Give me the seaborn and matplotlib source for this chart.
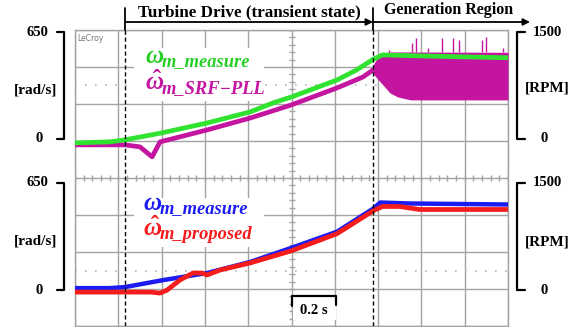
import numpy as np
import pandas as pd
import seaborn as sns
from matplotlib import pyplot as plt
from matplotlib.patches import Rectangle

#%% DATA
# upper channel, rad/s, time in s (0.2 s/div)
t_meas_up = [0.00, 0.16, 0.23, 0.40, 0.61, 0.81, 0.915, 1.00, 1.21, 1.30, 1.376, 1.42, 1.60, 2.00]
w_meas_up = [-18, -12, 0, 42, 102, 169, 223, 259, 361, 421, 485, 512, 506, 495]

t_pll = [0.00, 0.23, 0.30, 0.356, 0.393, 0.61, 0.81, 1.00, 1.21, 1.33, 1.376]
w_pll = [-30, -30, -42, -102, -12, 60, 132, 211, 313, 379, 421]

# SRF-PLL oscillation band in generation region
t_band = [1.376, 1.41, 1.455, 1.49, 1.55, 2.00]
w_band_hi = [450, 522, 530, 530, 530, 528]
w_band_lo = [400, 349, 283, 259, 241, 241]
t_spike = [1.45, 1.557, 1.575, 1.63, 1.695, 1.746, 1.774, 1.88, 1.898, 1.977]
w_spike = [542, 584, 614, 554, 614, 614, 602, 602, 620, 554]

# lower channel, rad/s
t_meas_lo = [0.00, 0.16, 0.23, 0.41, 0.61, 0.81, 1.00, 1.21, 1.376, 1.41, 1.55, 2.00]
w_meas_lo = [12, 12, 18, 61, 103, 170, 255, 352, 490, 528, 522, 516]

t_prop = [0.00, 0.20, 0.35, 0.393, 0.425, 0.485, 0.545, 0.587, 0.61, 0.67, 0.81, 1.00, 1.21, 1.38, 1.42, 1.50, 1.59, 2.00]
w_prop = [-12, -12, -12, -18, 0, 61, 103, 103, 91, 121, 164, 237, 340, 480, 504, 504, 486, 486]

t_events = [0.231, 1.376]

#%% SCOPE SETTINGS
up_zero = 1.03      # divisions
lo_zero = -3.03
rad_per_div = 223.0

c_green = '#2fe32f'
c_mag = '#c3159f'
c_blue = '#1c1cf2'
c_red = '#f51c1c'
c_grid = '#a3a3a3'

def to_div(w, zero):
  return np.asarray(w, dtype=float) / rad_per_div + zero

sns.set_style('white')
plt.rcParams['font.family'] = ['Liberation Serif', 'DejaVu Serif']
plt.rcParams['mathtext.fontset'] = 'custom'
plt.rcParams['mathtext.it'] = 'Liberation Serif:italic:bold'
plt.rcParams['mathtext.rm'] = 'Liberation Serif:bold'
plt.rcParams['mathtext.bf'] = 'Liberation Serif:bold'

fig = plt.figure(figsize=(5.86, 3.27), dpi=100)
W, H = 586, 327
ax = fig.add_axes([75 / W, 1 / H, 433 / W, 296 / H])
ax.set_xlim(0, 2)
ax.set_ylim(-4, 4)
ax.set_xticks(np.arange(0, 2.01, 0.2))
ax.set_yticks(np.arange(-4, 4.01, 1))
ax.grid(True, color=c_grid, lw=1.0)
ax.tick_params(length=0, labelbottom=False, labelleft=False)
for s in ax.spines.values():
  s.set_color(c_grid)
  s.set_linewidth(1.0)

# center cross minor ticks
ax.plot(np.full(41, 1.0), np.arange(-4, 4.01, 0.2), ls='none', marker='_', ms=5, mew=1, color=c_grid)
ax.plot(np.arange(0, 2.001, 0.04), np.zeros(51), ls='none', marker='|', ms=5, mew=1, color=c_grid)
# reference level dots
for yd in (2.51, -2.51):
  ax.axhline(yd, color='#b5b5b5', lw=1.2, ls=(0, (1, 5)))

# traces
df_up = pd.DataFrame({'t': t_meas_up, 'v': to_div(w_meas_up, up_zero)})
df_pll = pd.DataFrame({'t': t_pll, 'v': to_div(w_pll, up_zero)})
df_lo = pd.DataFrame({'t': t_meas_lo, 'v': to_div(w_meas_lo, lo_zero)})
df_prop = pd.DataFrame({'t': t_prop, 'v': to_div(w_prop, lo_zero)})

ax.fill_between(t_band, to_div(w_band_lo, up_zero), to_div(w_band_hi, up_zero), color=c_mag, lw=0, zorder=3)
ax.vlines(t_spike, to_div(w_band_hi, up_zero)[-1], to_div(w_spike, up_zero), color=c_mag, lw=1, zorder=3)
sns.lineplot(data=df_pll, x='t', y='v', ax=ax, color=c_mag, lw=3.4, zorder=4)
sns.lineplot(data=df_up, x='t', y='v', ax=ax, color=c_green, lw=3.4, zorder=5)
sns.lineplot(data=df_lo, x='t', y='v', ax=ax, color=c_blue, lw=3.2, zorder=4)
sns.lineplot(data=df_prop, x='t', y='v', ax=ax, color=c_red, lw=3.4, zorder=5)
ax.set_xlabel('')
ax.set_ylabel('')

for te in t_events:
  ax.axvline(te, color='k', lw=1.0, ls=(0, (3, 2)), zorder=6)

ax.text(0.005, 0.985, 'LeCroy', transform=ax.transAxes, fontsize=5.5, color='#777777',
        family='DejaVu Sans', ha='left', va='top')

#%% OVERLAY (annotations in pixel coords)
ov = fig.add_axes([0, 0, 1, 1], zorder=10)
ov.set_xlim(0, W)
ov.set_ylim(H, 0)
ov.axis('off')
ov.patch.set_alpha(0)

bold = dict(fontsize=10.5, fontweight='bold', color='k', ha='center', va='center')

# top region arrows
ov.plot([125, 125], [8, 30], color='k', lw=1.3)
ov.plot([373, 373], [8, 30], color='k', lw=1.3)
ov.annotate('', xy=(373, 22), xytext=(125, 22),
            arrowprops=dict(arrowstyle='-|>', color='k', lw=1.3, mutation_scale=10, shrinkA=0, shrinkB=0))
ov.annotate('', xy=(530, 22), xytext=(373, 22),
            arrowprops=dict(arrowstyle='-|>', color='k', lw=1.3, mutation_scale=10, shrinkA=0, shrinkB=0))
ov.text(249, 12, 'Turbine Drive (transient state)', **dict(bold, fontsize=12.3))
ov.text(449, 10, 'Generation Region', **dict(bold, fontsize=11.5))

# brackets and scale labels
for y0, y1 in ((32, 139), (183, 290)):
  ov.plot([57, 64, 64, 57], [y0, y0, y1, y1], color='k', lw=1.6)
  ov.plot([525, 517, 517, 525], [y0, y0, y1, y1], color='k', lw=1.6)
  ov.text(37, y0, '650', **bold)
  ov.text(39, y1, '0', **bold)
  ov.text(547, y0, '1500', **bold)
  ov.text(544, y1, '0', **bold)
ov.text(36, 90, '[rad/s]', **dict(bold, fontsize=11))
ov.text(36, 241, '[rad/s]', **dict(bold, fontsize=11))
ov.text(547, 88, '[RPM]', **dict(bold, fontsize=11))
ov.text(547, 242, '[RPM]', **dict(bold, fontsize=11))

# legend labels on white patches
ov.add_patch(Rectangle((134, 48), 130, 53, facecolor='white', edgecolor='none'))
ov.add_patch(Rectangle((134, 198), 130, 49, facecolor='white', edgecolor='none'))
sub = dict(fontsize=13.3, fontweight='bold', fontstyle='italic', ha='left', va='baseline')
labels = [
  (r'$\omega$', 'm_measure', 145, 63, 66, '#27cf27'),
  (r'$\hat{\omega}$', 'm_SRF\u2212PLL', 145, 90, 93, c_mag),
  (r'$\omega$', 'm_measure', 143, 210, 213, c_blue),
  (r'$\hat{\omega}$', 'm_proposed', 143, 236, 239, c_red),
]
for sym, txt, x, yb, ys, col in labels:
  ov.text(x, yb, sym, fontsize=18, color=col, ha='left', va='baseline')
  ov.text(x + 17, ys, txt, color=col, **sub)

# time scale bracket
ov.fill_between([293, 336], 297, 320, color='white', lw=0)
ov.plot([292, 292, 336, 336], [306, 296, 296, 305], color='k', lw=1.6)
ov.text(314, 311, '0.2 s', **bold)

fig.savefig('out.png', dpi=100)
